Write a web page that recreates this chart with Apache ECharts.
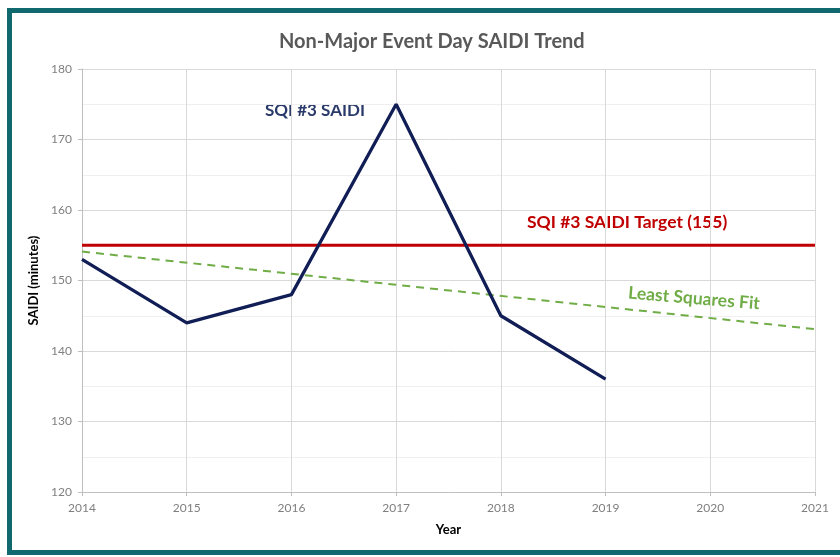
<!DOCTYPE html>
<html>
<head>
<meta charset="utf-8">
<script src="https://cdn.jsdelivr.net/npm/echarts@6/dist/echarts.min.js"></script>
<style>
  html, body { margin: 0; padding: 0; background: #fff; }
  #chart { width: 840px; height: 557px; }
</style>
</head>
<body>
<div id="chart"></div>
<script>
// data
const years = [2014, 2015, 2016, 2017, 2018, 2019]
const saidi = [153, 144, 148, 175, 145, 136]
const targetYears = [2014, 2021]
const targetValues = [155, 155]
const fitYears = [2014, 2021]
const fitValues = [154.1, 143.1]

const font = 'Lato, "Open Sans", sans-serif'

const chart = echarts.init(document.getElementById('chart'))

chart.setOption({
  backgroundColor: '#fff',
  animation: false,
  title: {
    text: 'Non-Major Event Day SAIDI Trend',
    left: 274,
    top: 27,
    textStyle: { fontFamily: font, fontSize: 20, fontWeight: 'bold', color: '#595959' }
  },
  grid: { left: 82, right: 25, top: 69, bottom: 65 },
  xAxis: {
    type: 'value',
    min: 2014,
    max: 2021,
    interval: 1,
    name: 'Year',
    nameLocation: 'middle',
    nameGap: 31,
    nameTextStyle: { fontFamily: font, fontSize: 13, fontWeight: 'bold', color: '#000' },
    axisLine: { show: true, lineStyle: { color: '#bfbfbf', width: 1 } },
    axisTick: { show: true, length: 4, lineStyle: { color: '#bfbfbf' } },
    axisLabel: { fontFamily: font, fontSize: 12, color: '#7f7f7f', margin: 10, formatter: v => String(v) },
    splitLine: { show: true, lineStyle: { color: '#d9d9d9', width: 1 } }
  },
  yAxis: {
    type: 'value',
    min: 120,
    max: 180,
    interval: 10,
    name: 'SAIDI (minutes)',
    nameLocation: 'middle',
    nameGap: 35,
    nameTextStyle: { fontFamily: font, fontSize: 13, fontWeight: 'bold', color: '#000' },
    axisLine: { show: true, lineStyle: { color: '#bfbfbf', width: 1 } },
    axisTick: { show: true, length: 4, lineStyle: { color: '#bfbfbf' } },
    axisLabel: { fontFamily: font, fontSize: 12, color: '#7f7f7f', margin: 10 },
    splitLine: { show: true, lineStyle: { color: '#d9d9d9', width: 1 } },
    minorTick: { show: false, splitNumber: 2 },
    minorSplitLine: { show: true, lineStyle: { color: '#efefef', width: 1 } }
  },
  series: [
    {
      name: 'SQI #3 SAIDI Target (155)',
      type: 'line',
      data: targetYears.map((x, i) => [x, targetValues[i]]),
      symbol: 'none',
      lineStyle: { color: '#c00000', width: 3 },
      z: 3
    },
    {
      name: 'Least Squares Fit',
      type: 'line',
      data: fitYears.map((x, i) => [x, fitValues[i]]),
      symbol: 'none',
      lineStyle: { color: '#70ad47', width: 2, type: [8, 6] },
      z: 2
    },
    {
      name: 'SQI #3 SAIDI',
      type: 'line',
      data: years.map((x, i) => [x, saidi[i]]),
      symbol: 'none',
      lineStyle: { color: '#111e56', width: 3.3 },
      z: 4
    }
  ],
  graphic: [
    {
      type: 'rect',
      shape: { x: 9.5, y: 10.5, width: 900, height: 542 },
      style: { fill: 'none', stroke: '#10696f', lineWidth: 5 },
      silent: true
    },
    {
      type: 'text',
      left: 265,
      top: 102,
      style: { text: 'SQI #3 SAIDI', fontFamily: font, fontSize: 17, fontWeight: 'bold', fill: '#2a3a6a' }
    },
    {
      type: 'text',
      left: 527,
      top: 213,
      style: { text: 'SQI #3 SAIDI Target (155)', fontFamily: font, fontSize: 17.5, fontWeight: 'bold', fill: '#c00000' }
    },
    {
      type: 'text',
      x: 629,
      y: 284,
      rotation: -0.082,
      style: { text: 'Least Squares Fit', fontFamily: font, fontSize: 17.5, fontWeight: 'bold', fill: '#70ad47' }
    }
  ]
})
</script>
</body>
</html>
